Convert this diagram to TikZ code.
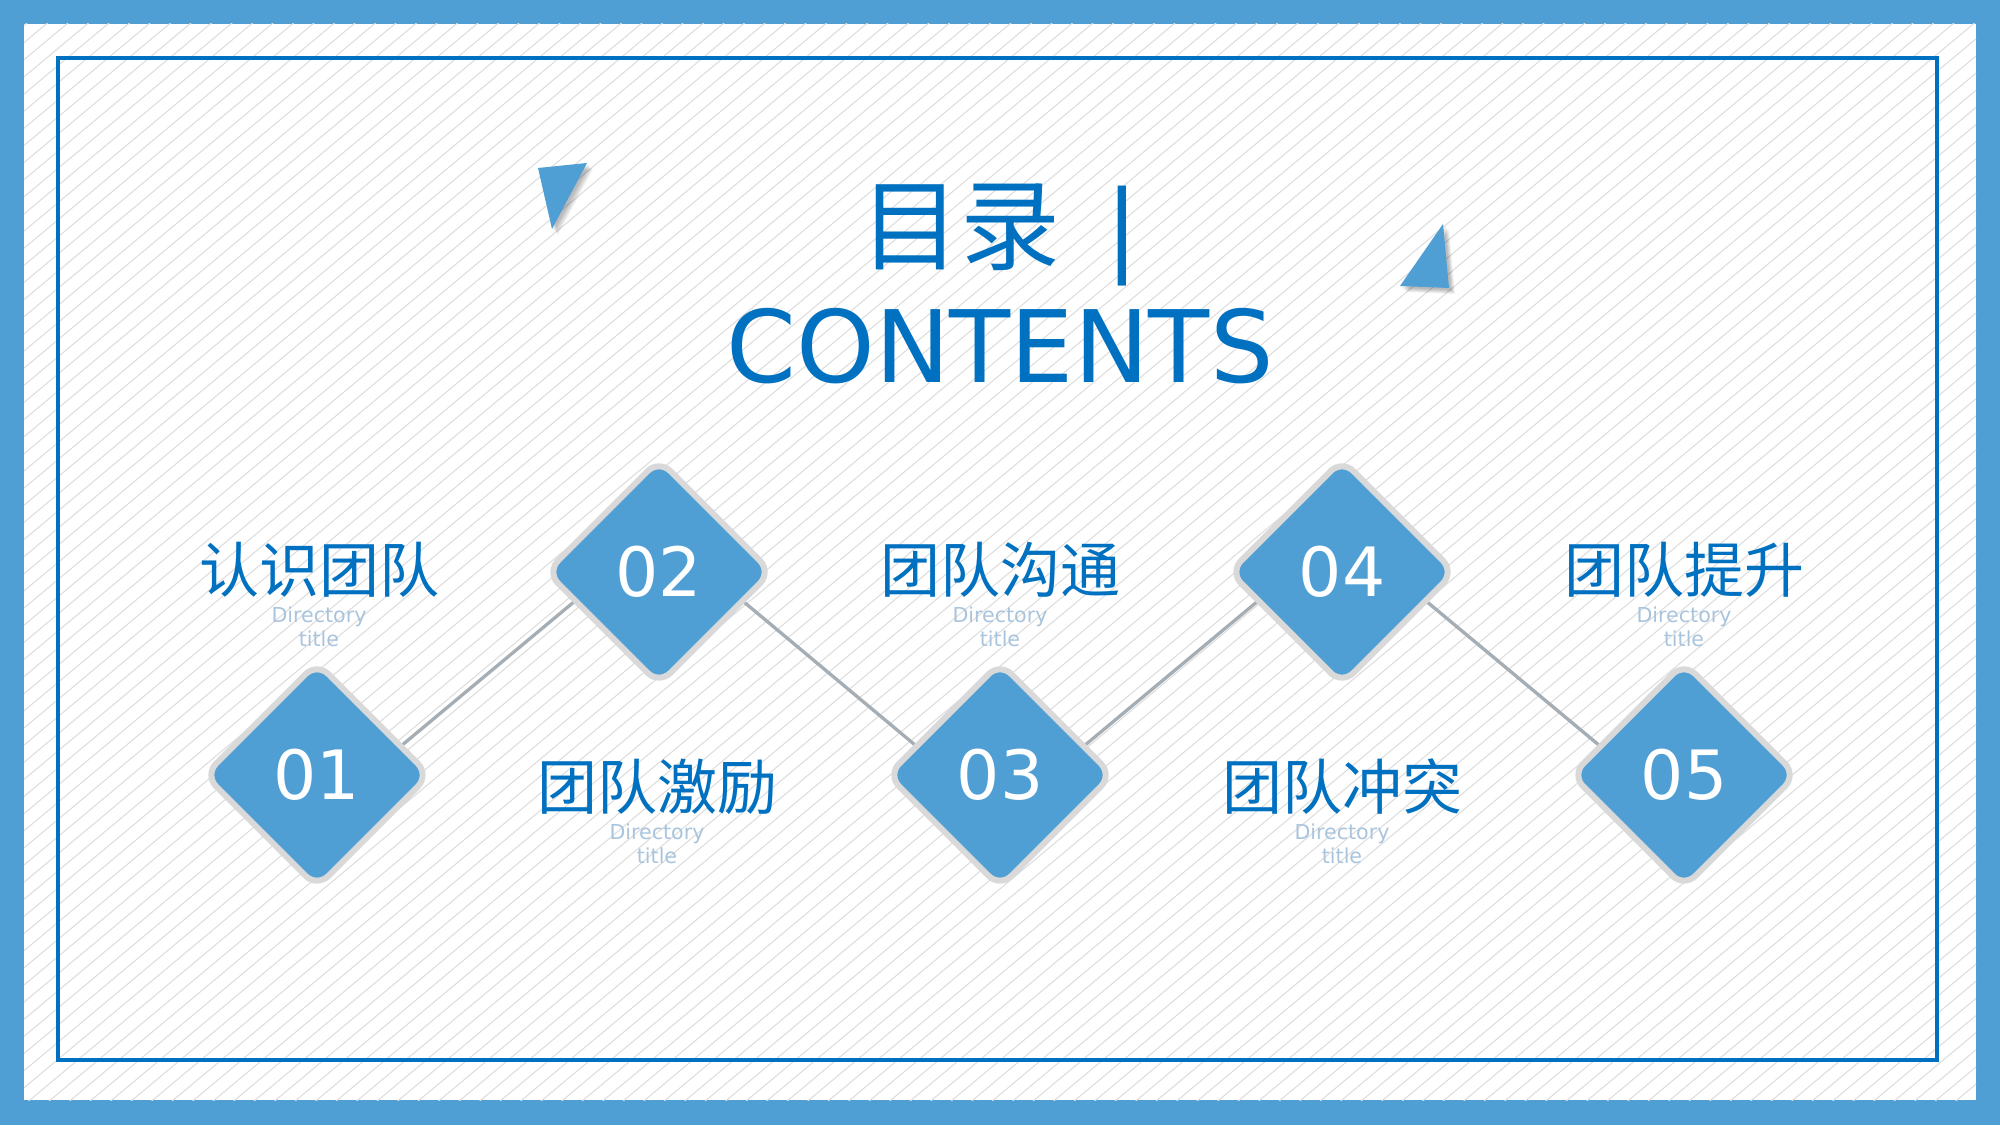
\documentclass[tikz,border=0pt]{standalone}
\usepackage{fontspec}
\setmainfont{DejaVu Sans}
\newfontfamily\cjk{Noto Sans CJK SC}
\usetikzlibrary{calc,shapes.geometric}
\definecolor{frameblue}{HTML}{4F9FD5}
\definecolor{deepblue}{HTML}{0070C0}
\definecolor{rimgray}{HTML}{D9D9D9}
\definecolor{linkgray}{HTML}{A5AEB4}
\definecolor{hatchgray}{HTML}{DCDCDC}
\definecolor{subblue}{HTML}{A9C4DD}
\pgfdeclarelayer{back}
\pgfdeclarelayer{links}
\pgfsetlayers{back,links,main}

\tikzset{
  dia/.style={diamond, minimum size=113.5pt, inner sep=0pt, rounded corners=8pt,
    fill=frameblue, draw=rimgray, line width=3pt, text=white,
    font=\fontsize{34pt}{40pt}\selectfont},
  link/.style={draw=linkgray, line width=1.65pt},
  head/.style={inner sep=0pt, text=deepblue, font=\cjk\fontsize{30pt}{36pt}\selectfont},
  sub/.style={inner sep=0pt, align=center, text=subblue,
    font=\fontsize{10.3pt}{12pt}\selectfont},
  hatch/.style={draw=hatchgray, line width=0.5pt},
  big/.style={anchor=base, text=deepblue, font=\fontsize{50pt}{60pt}\selectfont},
  flag/.style={fill=frameblue},
  flagshade/.style={fill=black, opacity=0.06},
}

\begin{document}
\begin{tikzpicture}[x=0.5pt, y=0.5pt]
\useasboundingbox (0,0) rectangle (2000,1125);

\begin{pgfonlayer}{back}
% frame and hatching
\fill[frameblue] (0,0) rectangle (2000,1125);
\fill[white] (24,25) rectangle (1976,1101);
\begin{scope}
  \clip (24,25) rectangle (1976,1101);
  \foreach \i in {-66,...,98}
    \draw[hatch] (\i*20.5,0) -- ++(1346,1125);
\end{scope}
\draw[deepblue, line width=2.3pt] (58,65) rectangle (1937,1067);
\end{pgfonlayer}

% title
\node[big] (ttl) at (1000,862) {{\cjk 目录}\hspace{0.45em}|};
\node[big] (cnt) at (1000,742) {CONTENTS};

% triangles with soft shadow
\foreach \k in {1,...,5}{
  \fill[flagshade, shift={(1+\k,-1-\k)}] (538,957) -- (587,962) -- (552,896) -- cycle;
  \fill[flagshade, shift={(1+\k,-1-\k)}] (1443,901) -- (1400,839) -- (1449,837) -- cycle;
}
\fill[flag] (538,957) -- (587,962) -- (552,896) -- cycle;
\fill[flag] (1443,901) -- (1400,839) -- (1449,837) -- cycle;

% diamonds
\foreach \i/\x/\y in {1/317/350, 2/659/553, 3/1000/350, 4/1342/553, 5/1684/350}
  \node[dia] (d\i) at (\x,\y) {0\i};

\begin{pgfonlayer}{links}
\foreach \a/\b/\s in {1/2/-41, 2/3/41, 3/4/-41, 4/5/41}
  \draw[link] ($(d\a)+(0,\s)$) -- ($(d\b)-(0,\s)$);
\end{pgfonlayer}

% labels
\foreach \i/\x/\y/\t in {1/319/555/认识团队, 2/657/338/团队激励, 3/1000/555/团队沟通,
    4/1342/338/团队冲突, 5/1684/555/团队提升}{
  \node[head] (h\i) at (\x,\y) {\t};
  \node[sub, anchor=north] (s\i) at ($(h\i.center)+(0,-36)$) {Directory\\title};
}
\end{tikzpicture}
\end{document}
